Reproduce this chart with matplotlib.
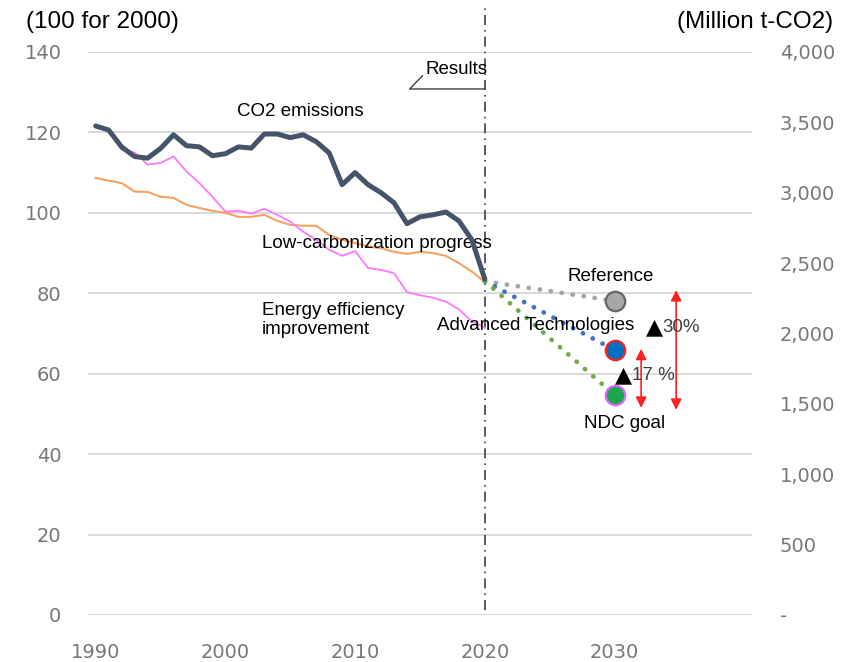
import matplotlib.pyplot as plt
from matplotlib.ticker import FuncFormatter

# Historical series (index, 2000 = 100)
years = list(range(1990, 2021))
co2_emissions = [121.6, 120.6, 116.4, 114.0, 113.6, 116.0, 119.4, 116.7, 116.4, 114.2,
                 114.7, 116.4, 116.1, 119.6, 119.6, 118.7, 119.4, 117.7, 114.9, 107.0,
                 110.0, 107.0, 105.0, 102.5, 97.3, 99.0, 99.5, 100.2, 98.0, 93.3,
                 83.5]
low_carbon = [108.7, 108.0, 107.4, 105.3, 105.2, 104.0, 103.7, 102.0, 101.2, 100.5,
              100.0, 99.0, 99.0, 99.5, 98.0, 97.0, 96.8, 96.8, 94.5, 93.3,
              92.5, 91.6, 91.2, 90.3, 89.8, 90.3, 90.0, 89.3, 87.5, 85.4,
              82.8]
energy_eff = [121.6, 120.5, 115.7, 115.0, 112.0, 112.4, 114.0, 110.3, 107.4, 104.0,
              100.3, 100.5, 99.8, 101.0, 99.5, 97.8, 95.3, 93.3, 90.8, 89.3,
              90.5, 86.3, 85.8, 85.0, 80.3, 79.5, 78.9, 77.9, 76.0, 73.0,
              71.5]

# 2030 scenarios
target_year = 2030
scenarios = ['Reference', 'Advanced Technologies', 'NDC goal']
scenario_2030 = [78.1, 65.9, 54.7]

left_ticks = [0, 20, 40, 60, 80, 100, 120, 140]
right_ticks = [0, 500, 1000, 1500, 2000, 2500, 3000, 3500, 4000]
year_ticks = [1990, 2000, 2010, 2020, 2030]

TXT = ['Liberation Sans', 'DejaVu Sans']
TICK_COLOR = '#777777'


def fmt_right(v, pos):
    if v == 0:
        return '-'
    return f"{int(v):,}"


fig = plt.figure(figsize=(8.45, 6.62), dpi=100)
ax = fig.add_axes([0.104, 0.071, 0.786, 0.8505])

for s in ax.spines.values():
    s.set_visible(False)
ax.set_xlim(1989.4, 2040.6)
ax.set_ylim(0, 140)
ax.set_yticks(left_ticks)
ax.set_xticks(year_ticks)
ax.grid(axis='y', color='#d9d9d9', linewidth=1.4)
ax.set_axisbelow(True)
ax.tick_params(length=0, labelsize=14, labelcolor=TICK_COLOR)
ax.tick_params(axis='y', pad=19)
ax.tick_params(axis='x', pad=20)

ax2 = ax.twinx()
for s in ax2.spines.values():
    s.set_visible(False)
ax2.set_ylim(0, 4000)
ax2.set_yticks(right_ticks)
ax2.yaxis.set_major_formatter(FuncFormatter(fmt_right))
ax2.tick_params(length=0, labelsize=14, labelcolor=TICK_COLOR, pad=20)

# historical lines
ax.plot(years, low_carbon, color='#f4a261', linewidth=1.5, zorder=3)
ax.plot(years, energy_eff, color='#ff77ff', linewidth=1.3, zorder=3)
ax.plot(years, co2_emissions, color='#44546a', linewidth=3.6, zorder=4,
        solid_capstyle='round', solid_joinstyle='round')

# dotted projections to 2030
proj_colors = ['#a6a6a6', '#4472c4', '#70ad47']
dot_colors = ['#a6a6a6', '#0070c0', '#1aa64a']
edge_colors = ['#666666', '#ff2020', '#e066ff']
start = co2_emissions[-1] - 0.5
for val, c, fc, ec in zip(scenario_2030, proj_colors, dot_colors, edge_colors):
    ax.plot([years[-1], target_year], [start, val], color=c, linewidth=3.4,
            linestyle=(0, (0.05, 2.3)), dash_capstyle='round', zorder=3)
    ax.plot(target_year, val, 'o', markersize=14, markerfacecolor=fc,
            markeredgecolor=ec, markeredgewidth=1.6, zorder=5)

# results boundary
ax.plot([2020, 2020], [1.2, 151.7], color='#404040', linewidth=1.2,
        linestyle=(0, (6, 3, 1, 3)), clip_on=False, zorder=2)
ax.plot([2020, 2014.2, 2015.2], [130.8, 130.8, 134.1], color='#404040',
        linewidth=1.0, zorder=2)
ax.text(2015.45, 135.6, 'Results', fontsize=13.5, family=TXT, va='center', ha='left')

# reduction arrows
ax.annotate('', xy=(2032.05, 51.5), xytext=(2032.05, 66.2),
            arrowprops=dict(arrowstyle='<|-|>', color='#ff2020', lw=1.2,
                            mutation_scale=16, shrinkA=0, shrinkB=0))
ax.annotate('', xy=(2034.75, 51.0), xytext=(2034.75, 80.8),
            arrowprops=dict(arrowstyle='<|-|>', color='#ff2020', lw=1.2,
                            mutation_scale=16, shrinkA=0, shrinkB=0))

# labels
fs = 13.5
ax.text(2000.93, 125.1, 'CO2 emissions', fontsize=fs, family=TXT, va='center')
ax.text(2002.8, 92.3, 'Low-carbonization progress', fontsize=fs, family=TXT, va='center')
ax.text(2002.8, 73.4, 'Energy efficiency\nimprovement', fontsize=fs, family=TXT,
        va='center', linespacing=1.2)
ax.text(2029.7, 84.1, scenarios[0], fontsize=fs, family=TXT, va='center', ha='center')
ax.text(2023.9, 72.1, scenarios[1], fontsize=fs, family=TXT, va='center', ha='center',
        zorder=6)
ax.text(2030.8, 47.5, scenarios[2], fontsize=fs, family=TXT, va='center', ha='center')

for x, y, pct in [(2032.4, 71.6, '30%'), (2030.0, 59.5, '17 %')]:
    t = ax.text(x, y, '\u25b2', fontsize=16, family=['DejaVu Sans'], va='center',
                color='black', zorder=6)
    ax.annotate(pct, xy=(1, 0.5), xycoords=t, va='center', ha='left',
                fontsize=fs, family=TXT, color='#404040', zorder=6)

fig.text(26 / 845, 1 - 22 / 662, '(100 for 2000)', fontsize=17.5, family=TXT, va='center')
fig.text(833 / 845, 1 - 22 / 662, '(Million t-CO2)', fontsize=17.5, family=TXT,
         va='center', ha='right')

fig.savefig('out.png', dpi=100)
